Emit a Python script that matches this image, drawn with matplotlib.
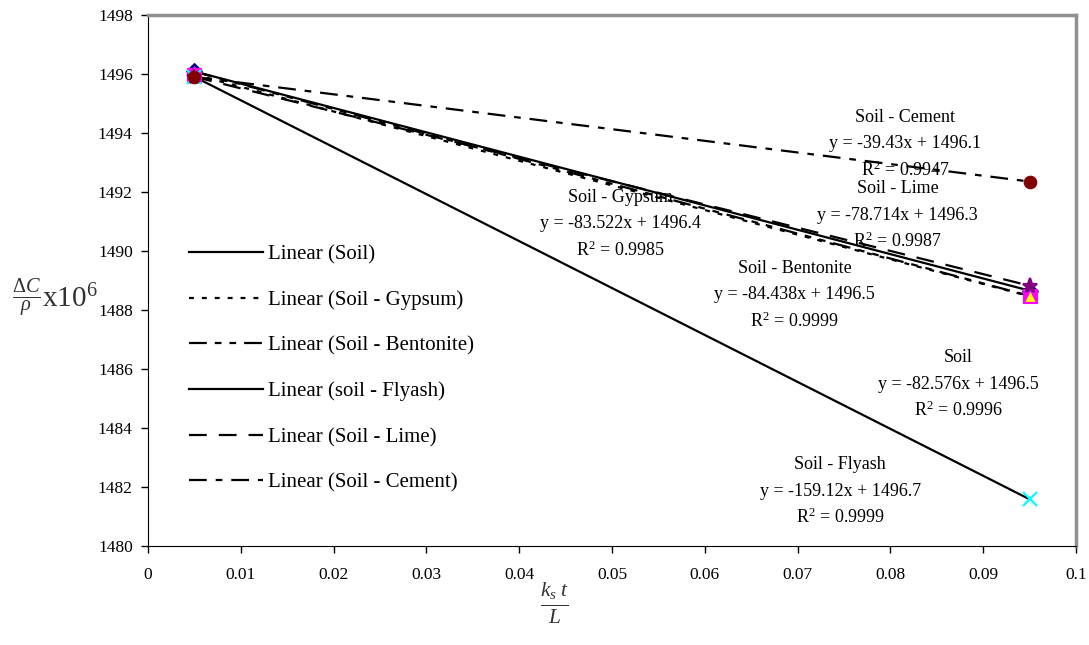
import numpy as np
import matplotlib
matplotlib.use('Agg')
import matplotlib.pyplot as plt

plt.rcParams['font.family'] = ['Liberation Serif', 'DejaVu Serif']
plt.rcParams['mathtext.fontset'] = 'custom'
plt.rcParams['mathtext.rm'] = 'Liberation Serif'
plt.rcParams['mathtext.it'] = 'Liberation Serif:italic'
plt.rcParams['mathtext.bf'] = 'Liberation Serif:bold'

# Measured points: two time factors per mix
x_points = [0.005, 0.095]
soil = [1496.09, 1488.66]
gypsum = [1495.98, 1488.47]
bentonite = [1496.08, 1488.48]
flyash = [1495.90, 1481.58]
lime = [1495.91, 1488.82]
cement = [1495.90, 1492.35]

names = ['Soil', 'Soil - Gypsum', 'Soil - Bentonite', 'soil - Flyash', 'Soil - Lime', 'Soil - Cement']
series = [soil, gypsum, bentonite, flyash, lime, cement]
slopes = [-82.576, -83.522, -84.438, -159.12, -78.714, -39.43]
intercepts = [1496.5, 1496.4, 1496.5, 1496.7, 1496.3, 1496.1]
r2 = ['0.9996', '0.9985', '0.9999', '0.9999', '0.9987', '0.9947']
titles = ['Soil', 'Soil - Gypsum', 'Soil - Bentonite', 'Soil - Flyash', 'Soil - Lime', 'Soil - Cement']
label_pos = [(0.0873, 1485.49), (0.0509, 1490.92), (0.0697, 1488.51),
             (0.0746, 1481.86), (0.0808, 1491.22), (0.0816, 1493.63)]

markers = ['D', 's', '^', 'x', '*', 'o']
msizes = [8, 10, 9, 10, 11, 9]
mcolors = ['#000080', '#FF00FF', '#FFFF00', '#00FFFF', '#800080', '#800000']
medges = ['#000080', '#FF00FF', '#FF00FF', '#00FFFF', '#800080', '#800000']
styles = ['-', (0, (2.2, 3.6)), (0, (8, 3.6, 3, 3.6, 3, 3.6)), '-', (0, (8, 5.4)), (0, (8, 4, 3, 4))]

fig = plt.figure(figsize=(10.89, 6.45), dpi=100)
ax = fig.add_axes([148 / 1089, 1 - 546 / 645, 928 / 1089, 531 / 645])

fit_x = np.array([0.005, 0.095])
for i in range(6):
    fit_y = slopes[i] * fit_x + intercepts[i]
    ax.plot(fit_x, fit_y, color='black', linestyle=styles[i], linewidth=1.6,
            label='Linear (' + names[i] + ')')

for i in range(6):
    ax.plot(x_points, series[i], linestyle='none', marker=markers[i], markersize=msizes[i],
            markerfacecolor=mcolors[i], markeredgecolor=medges[i],
            markeredgewidth=1.6 if markers[i] in ('x', '*') else 0.8, color=mcolors[i])

# Trendline equations
for i in range(6):
    x0, y0 = label_pos[i]
    ax.annotate(titles[i], (x0, y0), xytext=(0, 19), textcoords='offset points',
                ha='center', va='center', fontsize=13)
    ax.annotate('y = %gx + %g' % (slopes[i], intercepts[i]), (x0, y0),
                ha='center', va='center', fontsize=13)
    ax.annotate('R$^2$ = ' + r2[i], (x0, y0), xytext=(0, -19), textcoords='offset points',
                ha='center', va='center', fontsize=13)

ax.set_xlim(0, 0.1)
ax.set_ylim(1480, 1498)
ax.set_xticks(np.arange(0, 0.101, 0.01))
ax.set_xticklabels(['0', '0.01', '0.02', '0.03', '0.04', '0.05', '0.06', '0.07', '0.08', '0.09', '0.1'])
ax.set_yticks(np.arange(1480, 1499, 2))
ax.tick_params(direction='out', length=5, labelsize=12.5, width=1)
ax.tick_params(axis='x', pad=10)
ax.tick_params(axis='y', pad=6)
ax.spines['top'].set_color('#909090')
ax.spines['top'].set_linewidth(2.5)
ax.spines['right'].set_color('#909090')
ax.spines['right'].set_linewidth(2.5)

leg = ax.legend(loc='upper left', bbox_to_anchor=(0.033, 0.587), frameon=False,
                fontsize=15, handlelength=3.55, handletextpad=0.25, labelspacing=1.25,
                borderpad=0)

fig.text(55 / 1089, 1 - 298 / 645, r'$\frac{\mathit{\Delta C}}{\mathit{\rho}}$x10$^6$',
         ha='center', va='center', fontsize=21, color='#333333')
fig.text(555 / 1089, 1 - 603 / 645, r'$\frac{\mathit{k_s\ t}}{\mathit{L}}$',
         ha='center', va='center', fontsize=22, color='#333333')

fig.savefig('out.png', dpi=100)
